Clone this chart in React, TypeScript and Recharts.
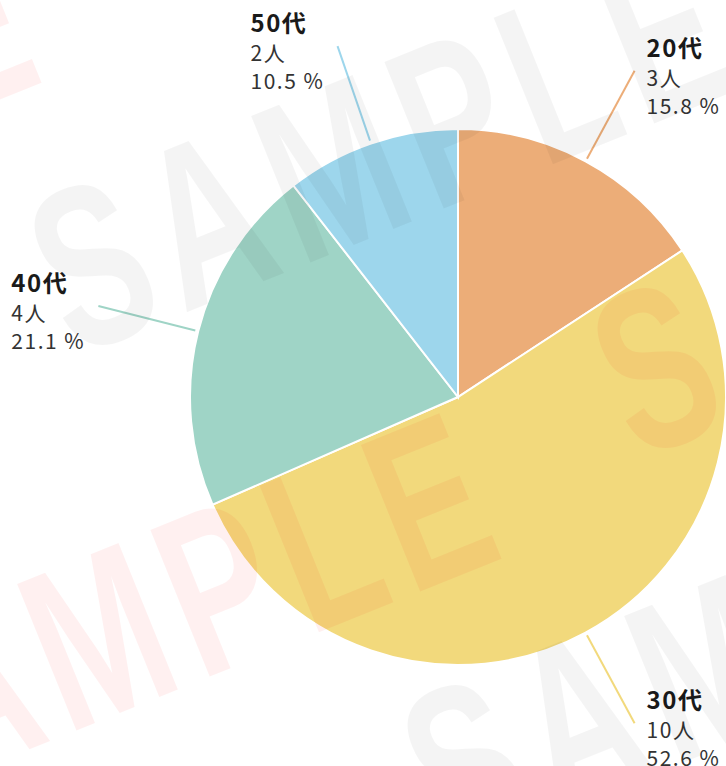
import { PieChart, Pie, Cell } from 'recharts';

const AGE_GROUPS = ['20代', '30代', '40代', '50代'];
const COUNTS = [3, 10, 4, 2];
const COLORS = ['#ECAD78', '#F2D97C', '#9FD4C6', '#9DD6EC'];
const UNIT = '人';

const WIDTH = 726;
const HEIGHT = 766;
const RADIAN = Math.PI / 180;

const data = AGE_GROUPS.map((name, i) => ({ name, value: COUNTS[i] }));

// faint "SAMPLE" stamps laid over the chart
const WATERMARKS = [
  { x: 74, y: 358, color: '#000', opacity: 0.045 },
  { x: -160, y: 826, color: '#ff0000', opacity: 0.06 },
  { x: 637, y: 461, color: '#ff0000', opacity: 0.06 },
  { x: 447, y: 858, color: '#000', opacity: 0.045 },
  { x: -620, y: 350, color: '#ff0000', opacity: 0.06 },
];

const renderLabel = (props: any) => {
  const { cx, cy, midAngle, outerRadius, index, percent } = props;
  const cos = Math.cos(-midAngle * RADIAN);
  const sin = Math.sin(-midAngle * RADIAN);
  const sx = cx + (outerRadius + 3) * cos;
  const sy = cy + (outerRadius + 3) * sin;
  const ex = cx + (outerRadius + 103) * cos;
  const ey = cy + (outerRadius + 103) * sin;
  const tx = cos >= 0 ? ex + 12 : ex - 87;
  const color = COLORS[index % COLORS.length];

  return (
    <g>
      <line x1={sx} y1={sy} x2={ex} y2={ey} stroke={color} strokeWidth={2} />
      <text
        x={tx}
        y={ey - 14}
        fill="#1a1a1a"
        fontSize={24}
        fontWeight={700}
        letterSpacing={1.5}
      >
        {AGE_GROUPS[index]}
      </text>
      <text x={tx} y={ey + 15} fill="#333" fontSize={21} letterSpacing={1.5}>
        {COUNTS[index]}
        {UNIT}
      </text>
      <text x={tx} y={ey + 43} fill="#333" fontSize={21} letterSpacing={1.5}>
        {(percent * 100).toFixed(1)} %
      </text>
    </g>
  );
};

export default function App() {
  return (
    <div
      style={{
        position: 'fixed',
        left: 0,
        top: 0,
        width: WIDTH,
        height: HEIGHT,
        background: '#fff',
        overflow: 'hidden',
        fontFamily: '"Noto Sans CJK JP", "Noto Sans", sans-serif',
      }}
    >
      <PieChart width={WIDTH} height={HEIGHT} margin={{ top: 0, right: 0, bottom: 0, left: 0 }}>
        <Pie
          data={data}
          dataKey="value"
          nameKey="name"
          cx={458}
          cy={397}
          outerRadius={268}
          startAngle={90}
          endAngle={-270}
          stroke="#fff"
          strokeWidth={2}
          label={renderLabel}
          labelLine={false}
          isAnimationActive={false}
        >
          {data.map((_, index) => (
            <Cell key={`cell-${index}`} fill={COLORS[index % COLORS.length]} />
          ))}
        </Pie>
      </PieChart>

      {/* watermark overlay */}
      <svg
        width={WIDTH}
        height={HEIGHT}
        style={{ position: 'absolute', left: 0, top: 0, pointerEvents: 'none' }}
      >
        {WATERMARKS.map((w, i) => (
          <text
            key={i}
            x={0}
            y={0}
            transform={`translate(${w.x} ${w.y}) rotate(-22) scale(0.68 1)`}
            fontFamily='"Liberation Sans", sans-serif'
            fontWeight={700}
            fontSize={230}
            letterSpacing={20}
            fill={w.color}
            fillOpacity={w.opacity}
          >
            SAMPLE
          </text>
        ))}
      </svg>
    </div>
  );
}
